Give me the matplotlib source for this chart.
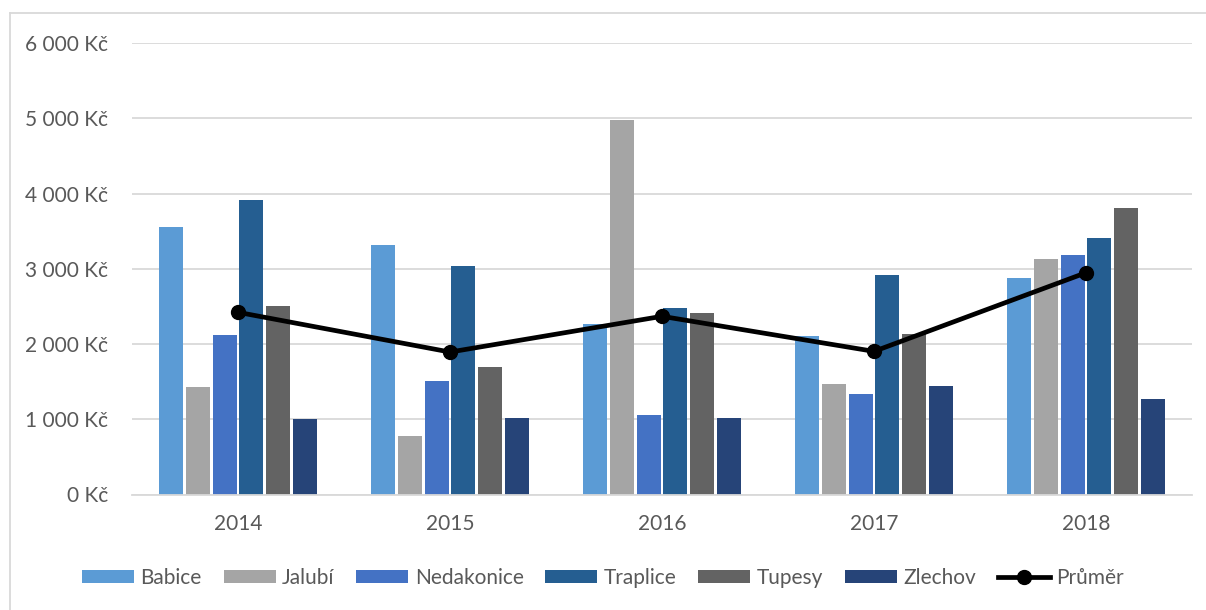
import numpy as np
import matplotlib.pyplot as plt
from matplotlib.ticker import FuncFormatter
from matplotlib.lines import Line2D

plt.rcParams['font.family'] = ['Lato', 'DejaVu Sans']

years = ['2014', '2015', '2016', '2017', '2018']
villages = ['Babice', 'Jalubí', 'Nedakonice', 'Traplice', 'Tupesy', 'Zlechov']
babice = [3558, 3318, 2261, 2111, 2883]
jalubi = [1427, 783, 4977, 1471, 3136]
nedakonice = [2120, 1507, 1055, 1338, 3180]
traplice = [3912, 3043, 2479, 2913, 3406]
tupesy = [2506, 1694, 2417, 2137, 3806]
zlechov = [1001, 1015, 1015, 1441, 1272]
prumer = [2421, 1893, 2368, 1902, 2947]

colors = ['#5B9BD5', '#A5A5A5', '#4472C4', '#255E91', '#636363', '#264478']
series = [babice, jalubi, nedakonice, traplice, tupesy, zlechov]

fig = plt.figure(figsize=(12.06, 6.1), dpi=100)
ax = fig.add_axes([132 / 1206, 1 - 494.5 / 610, (1192 - 132) / 1206, (494.5 - 43) / 610])

x = np.arange(len(years))
pitch = 0.127
width = 0.113
for i, (vals, c, name) in enumerate(zip(series, colors, villages)):
    ax.bar(x + (i - 2.5) * pitch, vals, width, color=c, label=name, zorder=2)

ax.plot(x, prumer, color='black', linewidth=3.4, marker='o', markersize=10,
        label='Průměr', zorder=3)

ax.set_xlim(-0.5, len(years) - 0.5)
ax.set_ylim(0, 6000)
ax.set_yticks(range(0, 6001, 1000))
ax.yaxis.set_major_formatter(FuncFormatter(lambda v, p: f'{int(v):,}'.replace(',', ' ') + ' Kč'))
ax.set_xticks(x)
ax.set_xticklabels(years)
ax.grid(axis='y', color='#D9D9D9', linewidth=1.3, zorder=0)
ax.set_axisbelow(True)
for s in ['top', 'right', 'left']:
    ax.spines[s].set_visible(False)
ax.spines['bottom'].set_color('#D9D9D9')
ax.spines['bottom'].set_linewidth(1.3)
ax.tick_params(length=0, labelsize=15, labelcolor='#595959')
ax.tick_params(axis='y', pad=17)
ax.tick_params(axis='x', pad=14)

handles, labels = ax.get_legend_handles_labels()
order = list(range(1, 7)) + [0]
fig.legend([handles[i] for i in order], [labels[i] for i in order],
           loc='center', bbox_to_anchor=(0.5, 1 - 578 / 610), ncol=7, frameon=False,
           fontsize=15, labelcolor='#595959', handlelength=2.5, handleheight=0.63,
           handletextpad=0.3, columnspacing=1.05)

# chart area border (left and top)
fig.add_artist(Line2D([10 / 1206, 10 / 1206], [0, 1 - 13 / 610], color='#D9D9D9', linewidth=1.3))
fig.add_artist(Line2D([10 / 1206, 1], [1 - 13 / 610, 1 - 13 / 610], color='#D9D9D9', linewidth=1.3))

fig.savefig('out.png', dpi=100)
